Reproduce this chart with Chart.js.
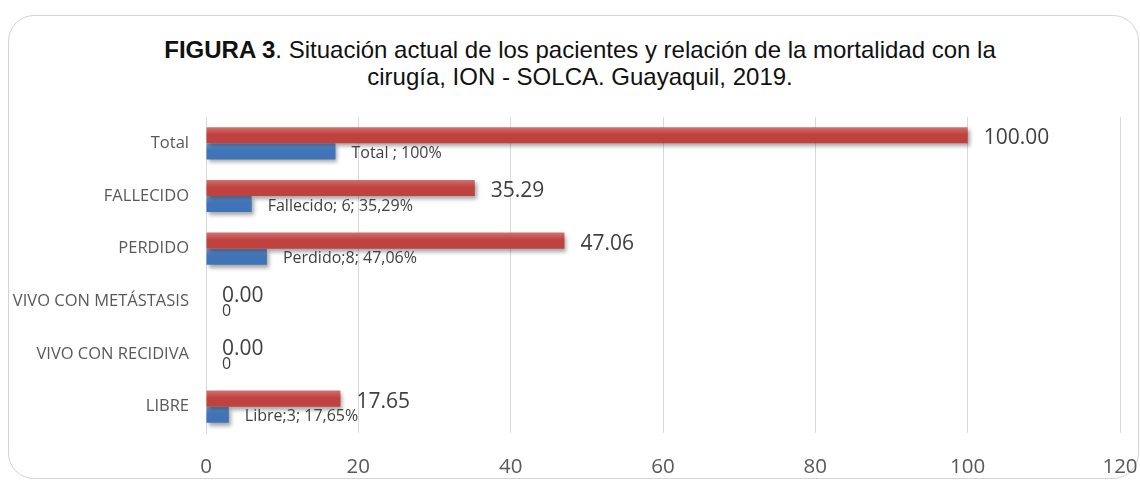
<!DOCTYPE html>
<html>
<head>
<meta charset="utf-8">
<script src="https://cdn.jsdelivr.net/npm/chart.js@4"></script>
<style>
  body { margin: 0; width: 1140px; height: 481px; overflow: hidden; background: #fff; }
  .frame { position: absolute; left: 8px; top: 15px; width: 1129px; height: 462px;
           border: 1.5px solid #d4d4d4; border-radius: 26px; }
  .title { position: absolute; left: 0; top: 36px; width: 1160px; text-align: center;
           font-family: "Liberation Sans", Arial, sans-serif; font-size: 24px; line-height: 27px; color: #111; }
  #wrap { position: absolute; left: 0; top: 0; width: 1140px; height: 481px; }
</style>
</head>
<body>
<div class="frame"></div>
<div class="title"><b>FIGURA 3</b>. Situación actual de los pacientes y relación de la mortalidad con la<br>cirugía, ION - SOLCA. Guayaquil, 2019.</div>
<div id="wrap"><canvas id="chart"></canvas></div>
<script>
// datos
const categorias = ['Total', 'FALLECIDO', 'PERDIDO', 'VIVO CON METÁSTASIS', 'VIVO CON RECIDIVA', 'LIBRE'];
const porcentajes = [100.00, 35.29, 47.06, 0.00, 0.00, 17.65];
const pacientes = [17, 6, 8, 0, 0, 3];
const etiquetasPacientes = ['Total ; 100%', 'Fallecido; 6; 35,29%', 'Perdido;8; 47,06%', '0', '0', 'Libre;3; 17,65%'];
const ticksX = [0, 20, 40, 60, 80, 100, 120];

// degradado vertical de cada barra (arriba más claro)
function degradado(claro, oscuro, arriba) {
    return (c) => {
        const y = c.chart.scales && c.chart.scales.y;
        if (!y || c.type !== 'data') return oscuro;
        const centro = y.getPixelForValue(c.dataIndex);
        const alto = y.height / categorias.length * 0.61 / 2;
        if (!Number.isFinite(centro) || !Number.isFinite(alto) || alto <= 0) return oscuro;
        const y0 = arriba ? centro - alto : centro;
        const g = c.chart.ctx.createLinearGradient(0, y0, 0, y0 + alto);
        g.addColorStop(0, claro);
        g.addColorStop(0.45, oscuro);
        g.addColorStop(1, oscuro);
        return g;
    };
}

const sombra = {
    id: 'sombra',
    beforeDatasetsDraw(chart) {
        const ctx = chart.ctx;
        ctx.save();
        ctx.shadowColor = 'rgba(0,0,0,0.35)';
        ctx.shadowBlur = 4;
        ctx.shadowOffsetX = 2;
        ctx.shadowOffsetY = 3;
    },
    afterDatasetsDraw(chart) {
        chart.ctx.restore();
    }
};

const etiquetas = {
    id: 'etiquetas',
    afterDatasetsDraw(chart) {
        const ctx = chart.ctx;
        ctx.save();
        ctx.fillStyle = '#404040';
        ctx.textAlign = 'left';
        ctx.textBaseline = 'middle';
        // rojo: porcentaje
        ctx.font = '21px "Open Sans"';
        chart.getDatasetMeta(0).data.forEach((bar, i) => {
            ctx.fillText(porcentajes[i].toFixed(2), bar.x + 16, bar.y + 3);
        });
        // azul: número de pacientes
        ctx.font = '16px "Open Sans"';
        chart.getDatasetMeta(1).data.forEach((bar, i) => {
            ctx.fillText(etiquetasPacientes[i], bar.x + 16, bar.y + 2);
        });
        ctx.restore();
    }
};

new Chart(document.getElementById('chart'), {
    type: 'bar',
    data: {
        labels: categorias,
        datasets: [
            {
                label: 'Porcentaje',
                data: porcentajes,
                backgroundColor: degradado('#D0716F', '#C0423F', true),
                categoryPercentage: 0.61,
                barPercentage: 1
            },
            {
                label: 'Pacientes',
                data: pacientes,
                backgroundColor: degradado('#6A98D2', '#3F74B8', false),
                categoryPercentage: 0.61,
                barPercentage: 1
            }
        ]
    },
    options: {
        indexAxis: 'y',
        responsive: true,
        maintainAspectRatio: false,
        animation: false,
        layout: { padding: { top: 117, right: 0, bottom: 0, left: 0 } },
        plugins: {
            legend: { display: false },
            tooltip: { enabled: false }
        },
        scales: {
            x: {
                min: 0,
                max: 120,
                afterBuildTicks: (scale) => { scale.ticks = ticksX.map(v => ({ value: v })); },
                afterFit: (scale) => { scale.height = 48; scale.paddingRight = 20; },
                grid: { color: '#d9d9d9', drawTicks: false },
                border: { display: false },
                ticks: { color: '#595959', font: { family: 'Open Sans', size: 20.5 }, padding: 22 }
            },
            y: {
                afterFit: (scale) => { scale.width = 206; },
                grid: { display: false },
                border: { display: true, color: '#d9d9d9' },
                ticks: { color: '#595959', font: { family: 'Open Sans', size: 16.5 }, padding: 9 }
            }
        }
    },
    plugins: [sombra, etiquetas]
});
</script>
</body>
</html>
